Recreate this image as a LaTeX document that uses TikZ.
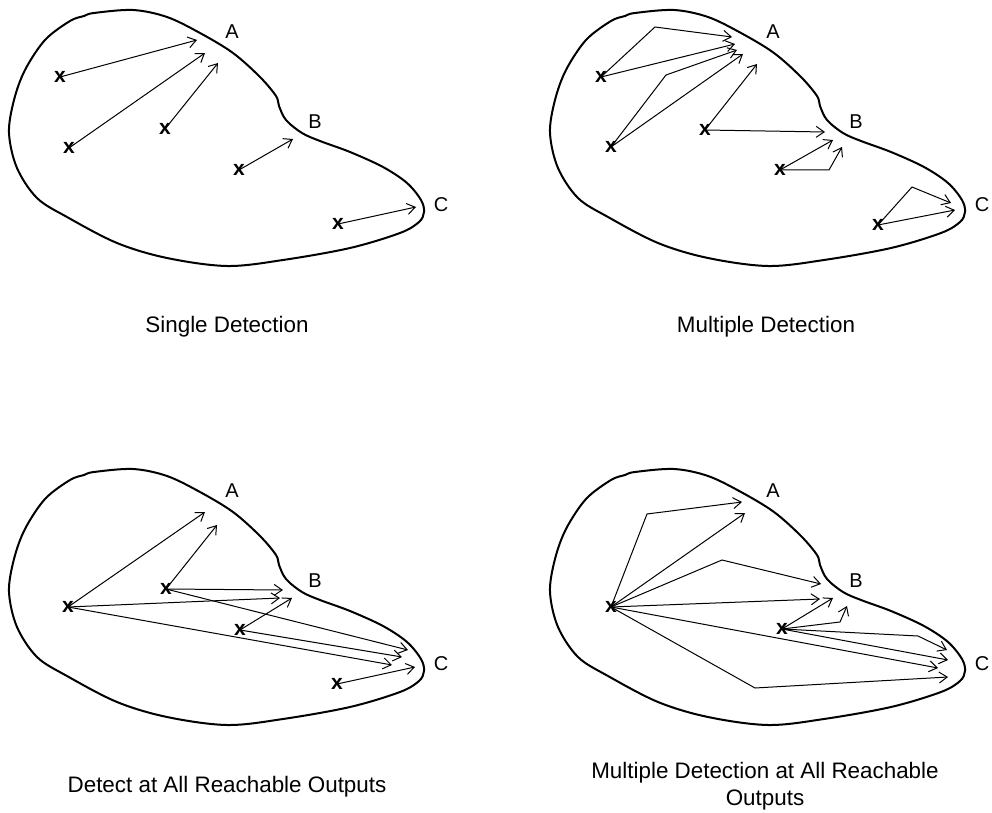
\documentclass[tikz,border=0pt]{standalone}
\usepackage{fontspec}
\setmainfont{Liberation Sans}
\usetikzlibrary{arrows.meta}

\begin{document}
\begin{tikzpicture}[
    x=0.5pt, y=-0.5pt,
    bean/.style={draw, line width=1pt, line join=round},
    arrow/.style={line width=0.5pt, -{Straight Barb[length=4pt, width=5.5pt]}},
    fault/.style={inner sep=0pt, font=\fontsize{10.5}{12}\selectfont\bfseries},
    output/.style={inner sep=0pt, font=\fontsize{10}{12}\selectfont},
    caption/.style={align=center, font=\fontsize{11.2}{13.5}\selectfont}
]
\useasboundingbox (0,0) rectangle (992,813);

% circuit outline with outputs A, B, C in each panel
\foreach \dx/\dy/\p in {0/0/sd, 541/0/md, 0/459/da, 541/459/ma} {
  \begin{scope}[shift={(\dx,\dy)}, name prefix=\p-]
    \draw[bean] plot[smooth cycle, tension=0.55] coordinates {
      (9,133) (14,100) (25,70) (45,40) (70,21) (84,16) (94,13) (133,10)
      (167,17) (200,33) (233,53) (260,77) (276,96) (279,106) (286,120)
      (302,133) (320,141) (350,152) (383,167) (407,183) (421,200)
      (424,212) (419,222) (400,233) (350,248) (283,260) (227,266)
      (167,258) (117,243) (67,217) (37,198) (17,168)};
    \node[output] (A) at (232,32) {A};
    \node[output] (B) at (315,122) {B};
    \node[output] (C) at (441,205) {C};
  \end{scope}
}

% Single Detection
\begin{scope}[name prefix=sd-]
  \node[fault] (m1) at (60,77) {x};
  \node[fault] (m2) at (69,148) {x};
  \node[fault] (m3) at (165,129) {x};
  \node[fault] (m4) at (239,170) {x};
  \node[fault] (m5) at (338,224) {x};
  \coordinate (h1) at (197,40);
  \coordinate (h2) at (205,53);
  \coordinate (h3) at (218,63);
  \coordinate (h4) at (293,139);
  \coordinate (h5) at (416,207);
  \draw[arrow] (m1.center) -- (h1);
  \draw[arrow] (m2.center) -- (h2);
  \draw[arrow] (m3.center) -- (h3);
  \draw[arrow] (m4.center) -- (h4);
  \draw[arrow] (m5.center) -- (h5);
\end{scope}
\node[caption] (sdcap) at (227,327) {Single Detection};

% Multiple Detection
\begin{scope}[shift={(541,0)}, name prefix=md-]
  \node[fault] (m1) at (60,77) {x};
  \node[fault] (m2) at (70,147) {x};
  \node[fault] (m3) at (164,130) {x};
  \node[fault] (m4) at (239,170) {x};
  \node[fault] (m5) at (337,225) {x};
  \coordinate (k1) at (114,27);
  \coordinate (k2) at (125,75);
  \coordinate (k4) at (288,170);
  \coordinate (k5) at (371,187);
  \coordinate (h1a) at (191,37);
  \coordinate (h1b) at (194,44);
  \coordinate (h2a) at (196,50);
  \coordinate (h2b) at (202,54);
  \coordinate (h3a) at (216,64);
  \coordinate (h3b) at (284,132);
  \coordinate (h4a) at (292,140);
  \coordinate (h4b) at (301,147);
  \coordinate (h5a) at (410,203);
  \coordinate (h5b) at (414,210);
  \draw[arrow] (m1.center) -- (k1) -- (h1a);
  \draw[arrow] (m1.center) -- (h1b);
  \draw[arrow] (m2.center) -- (k2) -- (h2a);
  \draw[arrow] (m2.center) -- (h2b);
  \draw[arrow] (m3.center) -- (h3a);
  \draw[arrow] (m3.center) -- (h3b);
  \draw[arrow] (m4.center) -- (h4a);
  \draw[arrow] (m4.center) -- (k4) -- (h4b);
  \draw[arrow] (m5.center) -- (k5) -- (h5a);
  \draw[arrow] (m5.center) -- (h5b);
\end{scope}
\node[caption] (mdcap) at (766,327) {Multiple Detection};

% Detect at All Reachable Outputs
\begin{scope}[shift={(0,459)}, name prefix=da-]
  \node[fault] (m2) at (68,148) {x};
  \node[fault] (m3) at (166,130) {x};
  \node[fault] (m4) at (240,171) {x};
  \node[fault] (m5) at (337,225) {x};
  \coordinate (h2a) at (205,53);
  \coordinate (h2b) at (280,139);
  \coordinate (h2c) at (392,206);
  \coordinate (h3a) at (217,66);
  \coordinate (h3b) at (283,131);
  \coordinate (h3c) at (408,191);
  \coordinate (h4b) at (292,139);
  \coordinate (h4c) at (402,198);
  \coordinate (h5c) at (415,208);
  \draw[arrow] (m2.center) -- (h2a);
  \draw[arrow] (m2.center) -- (h2b);
  \draw[arrow] (m2.center) -- (h2c);
  \draw[arrow] (m3.center) -- (h3a);
  \draw[arrow] (m3.center) -- (h3b);
  \draw[arrow] (m3.center) -- (h3c);
  \draw[arrow] (m4.center) -- (h4b);
  \draw[arrow] (m4.center) -- (h4c);
  \draw[arrow] (m5.center) -- (h5c);
\end{scope}
\node[caption] (dacap) at (227,787) {Detect at All Reachable Outputs};

% Multiple Detection at All Reachable Outputs
\begin{scope}[shift={(541,459)}, name prefix=ma-]
  \node[fault] (m2) at (70,148) {x};
  \node[fault] (m4) at (241,170) {x};
  \coordinate (k2a) at (106,55);
  \coordinate (k2b) at (181,101);
  \coordinate (k2c) at (214,229);
  \coordinate (k4b) at (299,163);
  \coordinate (k4c) at (377,177);
  \coordinate (h2a) at (201,43);
  \coordinate (h2b) at (204,54);
  \coordinate (h2c) at (280,125);
  \coordinate (h2d) at (279,140);
  \coordinate (h2e) at (397,209);
  \coordinate (h2f) at (407,218);
  \coordinate (h4a) at (292,139);
  \coordinate (h4b) at (306,147);
  \coordinate (h4c) at (406,191);
  \coordinate (h4d) at (407,201);
  \draw[arrow] (m2.center) -- (k2a) -- (h2a);
  \draw[arrow] (m2.center) -- (h2b);
  \draw[arrow] (m2.center) -- (k2b) -- (h2c);
  \draw[arrow] (m2.center) -- (h2d);
  \draw[arrow] (m2.center) -- (h2e);
  \draw[arrow] (m2.center) -- (k2c) -- (h2f);
  \draw[arrow] (m4.center) -- (h4a);
  \draw[arrow] (m4.center) -- (k4b) -- (h4b);
  \draw[arrow] (m4.center) -- (k4c) -- (h4c);
  \draw[arrow] (m4.center) -- (h4d);
\end{scope}
\node[caption] (macap) at (765,786) {Multiple Detection at All Reachable\\Outputs};
\end{tikzpicture}
\end{document}
